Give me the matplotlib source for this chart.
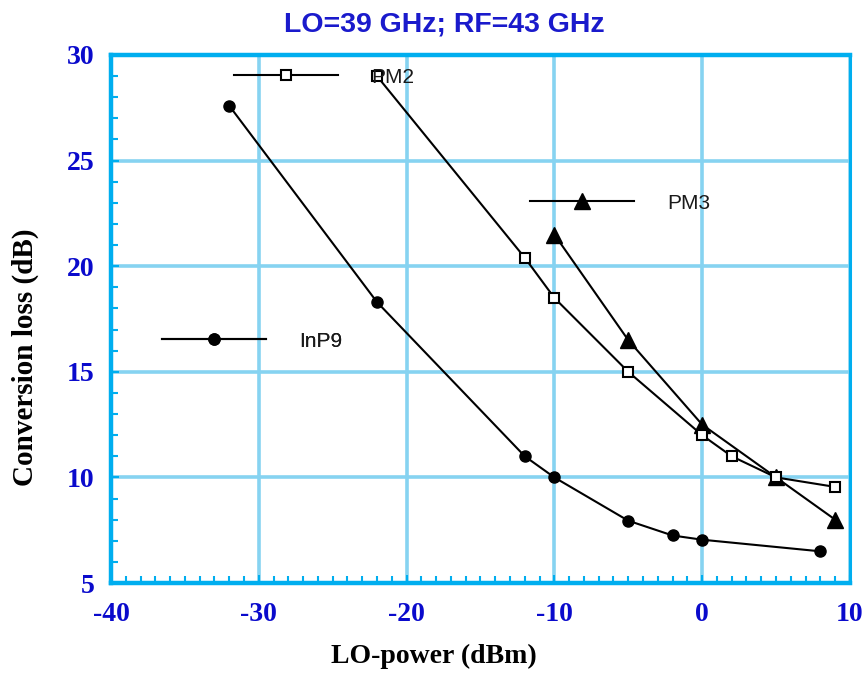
import matplotlib.pyplot as plt
from matplotlib.ticker import MultipleLocator

plt.rcParams['axes.unicode_minus'] = False

# LO power sweep (dBm) and measured conversion loss (dB) per device
inp9_x = [-32, -22, -12, -10, -5, -2, 0, 8]
inp9_y = [27.6, 18.3, 11.0, 10.0, 7.95, 7.25, 7.05, 6.5]

pm2_x = [-22, -12, -10, -5, 0, 2, 5, 9]
pm2_y = [29.0, 20.4, 18.5, 15.0, 12.0, 11.0, 10.0, 9.55]

pm3_x = [-10, -5, 0, 5, 9]
pm3_y = [21.5, 16.5, 12.5, 10.0, 8.0]

x_ticks = [-40, -30, -20, -10, 0, 10]
y_ticks = [5, 10, 15, 20, 25, 30]

frame_blue = '#00aeef'
grid_blue = '#86d3f1'
label_blue = '#0a0acc'

fig = plt.figure(figsize=(8.65, 6.74), dpi=100)
ax = fig.add_axes([0.1283, 0.135, 0.8543, 0.7834])

ln_inp9, = ax.plot(inp9_x, inp9_y, color='black', lw=1.5, marker='o',
                   ms=8, mfc='black', mec='black', zorder=3)
ln_pm2, = ax.plot(pm2_x, pm2_y, color='black', lw=1.5, marker='s',
                  ms=7.5, mfc='white', mec='black', mew=1.5, zorder=4)
ln_pm3, = ax.plot(pm3_x, pm3_y, color='black', lw=1.5, marker='^',
                  ms=12, mfc='black', mec='black', zorder=3)

ax.set_xlim(-40, 10)
ax.set_ylim(5, 30)
ax.set_xticks(x_ticks)
ax.set_yticks(y_ticks)
ax.xaxis.set_minor_locator(MultipleLocator(1))
ax.yaxis.set_minor_locator(MultipleLocator(1))

ax.grid(True, which='major', color=grid_blue, lw=2.6, zorder=0)
ax.set_axisbelow(True)

for side in ['left', 'bottom', 'top']:
    ax.spines[side].set_color(frame_blue)
    ax.spines[side].set_linewidth(3.2)
ax.spines['right'].set_color(frame_blue)
ax.spines['right'].set_linewidth(2.2)

ax.tick_params(which='major', direction='in', length=6, width=1.5,
               color=frame_blue, pad=14)
ax.tick_params(axis='y', which='major', pad=12)
ax.tick_params(which='minor', direction='in', length=5, width=1.5,
               color=frame_blue)
for lbl in ax.get_xticklabels() + ax.get_yticklabels():
    lbl.set_fontfamily('Liberation Serif')
    lbl.set_fontweight('bold')
    lbl.set_fontsize(20)
    lbl.set_color(label_blue)

ax.set_xlabel('LO-power (dBm)', fontfamily='Liberation Serif',
              fontweight='bold', fontsize=20)
ax.xaxis.set_label_coords(0.437, -0.115)
ax.set_ylabel('Conversion loss (dB)', fontfamily='Liberation Serif',
              fontweight='bold', fontsize=21)
ax.yaxis.set_label_coords(-0.098, 0.428)

fig.text(0.514, 0.983, 'LO=39 GHz; RF=43 GHz', ha='center', va='top',
         fontfamily='Liberation Sans', fontweight='bold', fontsize=20.5,
         color='#1a1acc')

# one free-floating key per series, placed inside the plot area
keys = [(ln_pm2, 'PM2', (0.1664, 0.958)),
        (ln_pm3, 'PM3', (0.567, 0.7197)),
        (ln_inp9, 'InP9', (0.069, 0.458))]
for handle, name, anchor in keys:
    leg = ax.legend([handle], [name], loc='center left', bbox_to_anchor=anchor,
                    frameon=False, borderpad=0, borderaxespad=0,
                    handlelength=5.0, handletextpad=1.6, numpoints=1,
                    prop={'family': 'Liberation Sans', 'size': 15})
    leg.get_texts()[0].set_color('#1a1a1a')
    ax.add_artist(leg)

fig.savefig('out.png', dpi=100)
